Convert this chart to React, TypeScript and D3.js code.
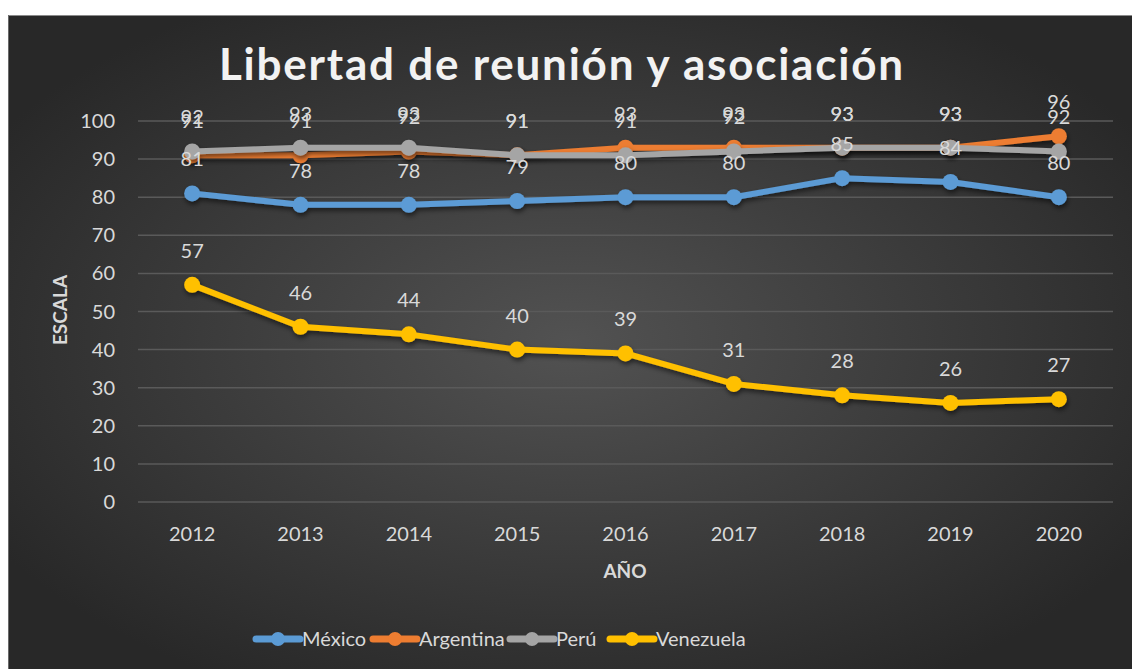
import React, { useEffect, useRef } from 'react';
import * as d3 from 'd3';

const years = ['2012', '2013', '2014', '2015', '2016', '2017', '2018', '2019', '2020'];
const mexico = [81, 78, 78, 79, 80, 80, 85, 84, 80];
const argentina = [91, 91, 92, 91, 93, 93, 93, 93, 96];
const peru = [92, 93, 93, 91, 91, 92, 93, 93, 92];
const venezuela = [57, 46, 44, 40, 39, 31, 28, 26, 27];
const yTicks = [0, 10, 20, 30, 40, 50, 60, 70, 80, 90, 100];

const seriesNames = ['México', 'Argentina', 'Perú', 'Venezuela'];
const seriesColors = ['#5b9bd5', '#ed7d31', '#a5a5a5', '#ffc000'];
const seriesValues = [mexico, argentina, peru, venezuela];

const W = 1132;
const H = 669;
const FONT = 'Lato, "Open Sans", sans-serif';

const App = () => {
    const svgRef = useRef<SVGSVGElement>(null);

    useEffect(() => {
        document.body.style.margin = '0';
        const svg = d3.select(svgRef.current);
        svg.selectAll('*').remove();

        const defs = svg.append('defs');
        const grad = defs.append('radialGradient').attr('id', 'bg')
            .attr('cx', '50%').attr('cy', '50%').attr('r', '60%');
        grad.append('stop').attr('offset', '0%').attr('stop-color', '#525252');
        grad.append('stop').attr('offset', '100%').attr('stop-color', '#282828');
        const sh = defs.append('filter').attr('id', 'shadow')
            .attr('x', '-10%').attr('y', '-10%').attr('width', '120%').attr('height', '130%');
        sh.append('feDropShadow').attr('dx', 1).attr('dy', 3).attr('stdDeviation', 2.5)
            .attr('flood-color', '#000').attr('flood-opacity', 0.55);

        // frame
        svg.append('rect').attr('x', 8).attr('y', 15).attr('width', W - 8).attr('height', H - 15)
            .attr('fill', 'url(#bg)');
        svg.append('line').attr('x1', 8).attr('x2', W).attr('y1', 15.5).attr('y2', 15.5)
            .attr('stroke', '#8a8a8a').attr('stroke-width', 1);
        svg.append('line').attr('x1', 8.5).attr('x2', 8.5).attr('y1', 15).attr('y2', H)
            .attr('stroke', '#6a6a6a').attr('stroke-width', 1);

        const margin = { left: 138, right: 1113, top: 121, bottom: 502 };
        const x = d3.scaleBand().domain(years).range([margin.left, margin.right]);
        const y = d3.scaleLinear().domain([0, 100]).range([margin.bottom, margin.top]);
        const cx = (d: string) => (x(d) as number) + x.bandwidth() / 2;

        // title
        svg.append('text').attr('x', 561).attr('y', 80).attr('text-anchor', 'middle')
            .attr('font-family', FONT).attr('font-weight', 700).attr('font-size', 44)
            .attr('fill', '#f2f2f2')
            .attr('textLength', 684).attr('lengthAdjust', 'spacing')
            .text('Libertad de reunión y asociación');

        // grid + y labels
        const gy = svg.append('g');
        gy.selectAll('line').data(yTicks).enter().append('line')
            .attr('x1', margin.left).attr('x2', margin.right)
            .attr('y1', (d) => y(d)).attr('y2', (d) => y(d))
            .attr('stroke', '#5a5a5a').attr('stroke-width', 1.5);
        gy.selectAll('text').data(yTicks).enter().append('text')
            .attr('x', 115).attr('y', (d) => y(d) + 7).attr('text-anchor', 'end')
            .attr('font-family', FONT).attr('font-size', 20).attr('fill', '#d9d9d9')
            .text((d) => d);

        // x labels
        svg.append('g').selectAll('text').data(years).enter().append('text')
            .attr('x', cx).attr('y', 541).attr('text-anchor', 'middle')
            .attr('font-family', FONT).attr('font-size', 20).attr('fill', '#d9d9d9')
            .text((d) => d);

        // axis titles
        svg.append('text').attr('x', 625).attr('y', 578).attr('text-anchor', 'middle')
            .attr('font-family', FONT).attr('font-weight', 700).attr('font-size', 19)
            .attr('fill', '#d9d9d9').text('AÑO');
        svg.append('text').attr('transform', 'translate(67,310) rotate(-90)').attr('text-anchor', 'middle')
            .attr('font-family', FONT).attr('font-weight', 700).attr('font-size', 19)
            .attr('fill', '#d9d9d9').text('ESCALA');

        // lines
        const line = d3.line<number>().x((_, i) => cx(years[i])).y((d) => y(d));
        seriesValues.forEach((vals, si) => {
            const g = svg.append('g').attr('filter', 'url(#shadow)');
            g.append('path').datum(vals).attr('d', line).attr('fill', 'none')
                .attr('stroke', seriesColors[si]).attr('stroke-width', 6)
                .attr('stroke-linejoin', 'round').attr('stroke-linecap', 'round');
            g.selectAll('circle').data(vals).enter().append('circle')
                .attr('cx', (_, i) => cx(years[i])).attr('cy', (d) => y(d)).attr('r', 8)
                .attr('fill', seriesColors[si]);
        });

        // data labels
        seriesValues.forEach((vals) => {
            svg.append('g').selectAll('text').data(vals).enter().append('text')
                .attr('x', (_, i) => cx(years[i])).attr('y', (d) => y(d) - 27)
                .attr('text-anchor', 'middle').attr('font-family', FONT).attr('font-size', 20)
                .attr('fill', '#d9d9d9').text((d) => d);
        });

        // legend
        const legX = [256, 373, 510, 610];
        const lg = svg.append('g');
        seriesNames.forEach((name, i) => {
            const g = lg.append('g').attr('transform', `translate(${legX[i]},639)`);
            g.append('line').attr('x1', 0).attr('x2', 44).attr('y1', 0).attr('y2', 0)
                .attr('stroke', seriesColors[i]).attr('stroke-width', 7).attr('stroke-linecap', 'round');
            g.append('circle').attr('cx', 22).attr('cy', 0).attr('r', 7).attr('fill', seriesColors[i]);
            g.append('text').attr('x', 46).attr('y', 7).attr('font-family', FONT).attr('font-size', 20)
                .attr('fill', '#d9d9d9').text(name);
        });
    }, []);

    return (
        <svg ref={svgRef} width={W} height={H} style={{ display: 'block' }} />
    );
};

export default App;
